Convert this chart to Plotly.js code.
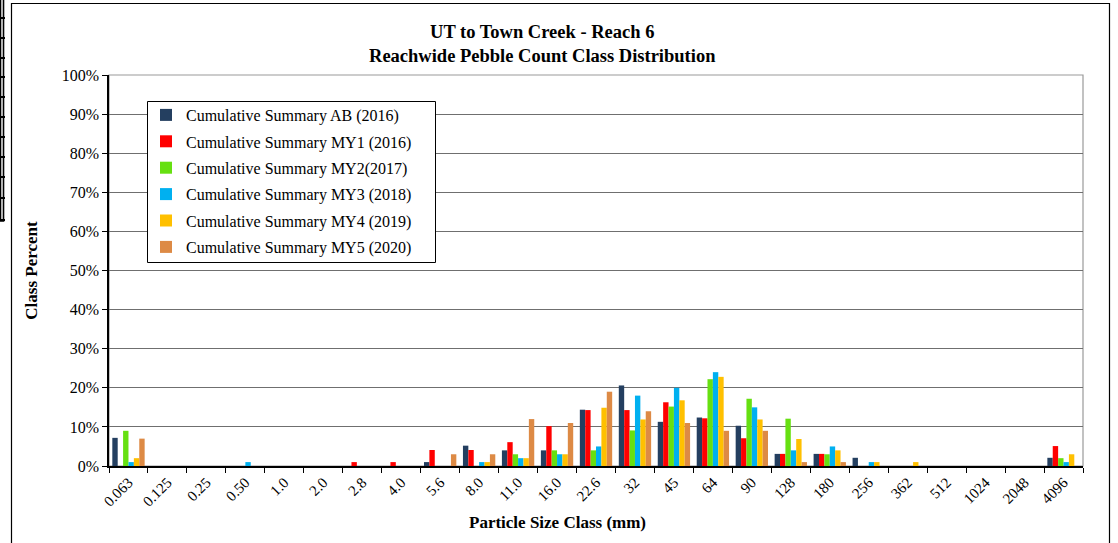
<!DOCTYPE html>
<html>
<head>
<meta charset="utf-8">
<script src="https://cdn.plot.ly/plotly-3.0.1.min.js"></script>
<style>html,body{margin:0;padding:0;background:#fff;}#chart{width:1118px;height:543px;}</style>
</head>
<body>
<div id="chart"></div>
<script>
const categories = ["0.063","0.125","0.25","0.50","1.0","2.0","2.8","4.0","5.6","8.0","11.0","16.0","22.6","32","45","64","90","128","180","256","362","512","1024","2048","4096"];
const seriesNames = ["Cumulative Summary AB (2016)","Cumulative Summary MY1 (2016)","Cumulative Summary MY2(2017)","Cumulative Summary MY3 (2018)","Cumulative Summary MY4 (2019)","Cumulative Summary MY5 (2020)"];
//                 0.063 0.125 0.25 0.50 1.0 2.0 2.8 4.0 5.6 8.0 11.0 16.0 22.6 32 45 64 90 128 180 256 362 512 1024 2048 4096
const ab2016  = [7.2, 0, 0, 0, 0, 0, 0, 0, 1, 5.2, 4, 4, 14.4, 20.6, 11.3, 12.4, 10.3, 3.1, 3.1, 2.1, 0, 0, 0, 0, 2.1];
const my1_2016 = [0, 0, 0, 0, 0, 0, 1, 1, 4.1, 4.1, 6.1, 10.2, 14.3, 14.3, 16.3, 12.2, 7.1, 3.1, 3.1, 0, 0, 0, 0, 0, 5.1];
const my2_2017 = [9, 0, 0, 0, 0, 0, 0, 0, 0, 0, 3, 4, 4, 9.1, 15.2, 22.2, 17.2, 12.1, 3, 0, 0, 0, 0, 0, 2];
const my3_2018 = [1, 0, 0, 1, 0, 0, 0, 0, 0, 1, 2, 3, 5, 18, 20, 24, 15, 4, 5, 1, 0, 0, 0, 0, 1];
const my4_2019 = [2, 0, 0, 0, 0, 0, 0, 0, 0, 1, 2, 3, 14.9, 11.9, 16.8, 22.8, 11.9, 6.9, 4, 1, 1, 0, 0, 0, 3];
const my5_2020 = [7, 0, 0, 0, 0, 0, 0, 0, 3, 3, 12, 11, 19, 14, 11, 9, 9, 1, 1, 0, 0, 0, 0, 0, 0];
const seriesValues = [ab2016, my1_2016, my2_2017, my3_2018, my4_2019, my5_2020];
const seriesColors = ["#243F60", "#FF0000", "#66E011", "#00B0F0", "#FFC000", "#DD8A45"];

const FONT = "Liberation Serif, Times New Roman, serif";

const traces = seriesNames.map((name, i) => ({
  type: "bar",
  name: name,
  x: categories,
  y: seriesValues[i],
  legendgroup: "g" + i,
  marker: {color: seriesColors[i], line: {width: 0}},
  hoverinfo: "x+y+name"
}));

// pixel -> paper helpers (plot area: x 109..1083, y 75..466)
const PX0 = 109, PW = 974, PY0 = 466, PH = 391;
const px = v => (v - PX0) / PW;
const py = v => (PY0 - v) / PH;

const shapes = [
  {type: "rect", xref: "paper", yref: "paper", x0: px(11.5), x1: px(1109.5), y0: py(548), y1: py(3.5), line: {color: "#000", width: 1.2}, fillcolor: "rgba(0,0,0,0)", layer: "below"},
  {type: "rect", xref: "paper", yref: "paper", x0: 0, x1: 1, y0: 0, y1: 1, line: {color: "#9a9a9a", width: 1.2}, fillcolor: "rgba(0,0,0,0)", layer: "below"},
  {type: "rect", xref: "paper", yref: "paper", x0: px(147.5), x1: px(435.5), y0: py(262.5), y1: py(101.5), line: {color: "#000", width: 1}, fillcolor: "#fff", layer: "above"},
  {type: "rect", xref: "paper", yref: "paper", x0: px(0.5), x1: px(3.5), y0: py(221), y1: py(-2), line: {color: "#000", width: 1.6}, fillcolor: "rgba(0,0,0,0)"}
];
[18, 38, 58, 77, 97, 117, 137, 157, 177, 198, 220].forEach(yy => {
  shapes.push({type: "line", xref: "paper", yref: "paper", x0: px(0), x1: px(5), y0: py(yy), y1: py(yy), line: {color: "#000", width: 2}});
});

const layout = {
  width: 1118, height: 543,
  margin: {l: 109, r: 35, t: 75, b: 77},
  paper_bgcolor: "#fff", plot_bgcolor: "rgba(0,0,0,0)",
  font: {family: FONT, color: "#000", size: 14},
  title: {
    text: "<b>UT to Town Creek - Reach 6</b><br><b>Reachwide Pebble Count Class Distribution</b>",
    font: {family: FONT, size: 18.5, color: "#000"},
    x: 0.485, xanchor: "center", yref: "container", y: 1 - 37.5 / 543, yanchor: "middle"
  },
  barmode: "group",
  bargap: 0.17,
  bargroupgap: 0,
  showlegend: true,
  legend: {
    x: px(146), y: py(98), xanchor: "left", yanchor: "top",
    bgcolor: "rgba(0,0,0,0)", borderwidth: 0,
    font: {family: FONT, size: 16, color: "#000"},
    traceorder: "grouped", tracegroupgap: 2.6,
    itemclick: false
  },
  xaxis: {
    type: "category",
    categoryorder: "array", categoryarray: categories,
    tickson: "boundaries",
    ticks: "outside", ticklen: 5, tickcolor: "#000", tickwidth: 1.2,
    tickangle: -45,
    tickfont: {family: FONT, size: 15, color: "#000"},
    showline: true, linecolor: "#000", linewidth: 1.6,
    showgrid: false, zeroline: false,
    automargin: false, fixedrange: true
  },
  yaxis: {
    range: [0, 100], dtick: 10, ticksuffix: "%",
    ticks: "outside", ticklen: 5, tickcolor: "#000", tickwidth: 1.2,
    tickfont: {family: FONT, size: 16, color: "#000"},
    showline: true, linecolor: "#000", linewidth: 1.6,
    showgrid: true, gridcolor: "#6f6f6f", gridwidth: 1,
    zeroline: false,
    title: {text: "<b>Class Percent</b>", font: {family: FONT, size: 17, color: "#000"}, standoff: 20},
    automargin: false, fixedrange: true
  },
  annotations: [
    {text: "<b>Particle Size Class (mm)</b>", xref: "paper", yref: "paper", x: px(557), y: py(522), xanchor: "center", yanchor: "middle", showarrow: false, font: {family: FONT, size: 17, color: "#000"}}
  ],
  shapes: shapes
};

Plotly.newPlot("chart", traces, layout, {displayModeBar: false, responsive: false});
</script>
</body>
</html>
